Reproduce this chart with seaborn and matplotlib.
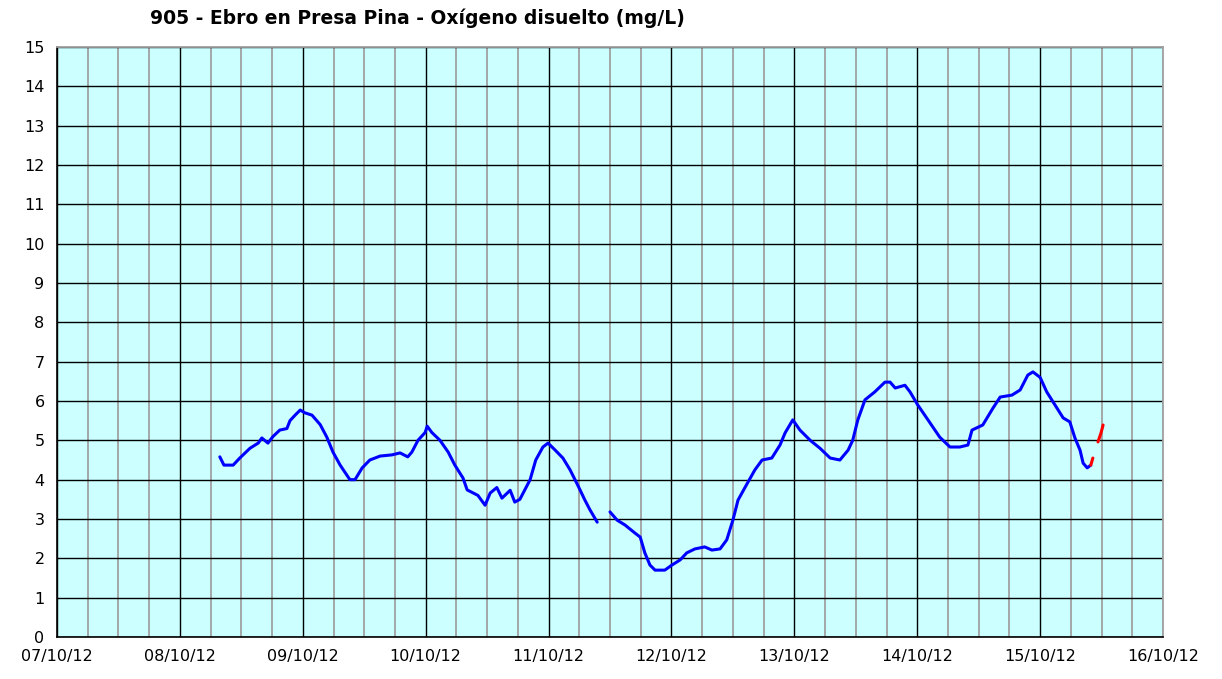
import numpy as np
import pandas as pd
import matplotlib
matplotlib.use("Agg")
import matplotlib.pyplot as plt
import matplotlib.dates as mdates
import seaborn as sns

# hours since 07/10/12 00:00 and dissolved oxygen (mg/L)
seg1_hours = [31.8, 32.6, 34.4, 35.7, 37.7, 39.3, 40.0, 41.2, 42.2, 43.5, 44.9, 45.5, 46.5,
              47.5, 48.4, 49.8, 51.4, 52.7, 53.9, 55.3, 57.2, 58.2, 59.6, 61.1, 63.1, 65.4,
              67.0, 68.5, 69.3, 70.5, 71.9, 72.3, 73.2, 74.8, 76.4, 77.7, 79.3, 80.1, 82.2,
              83.6, 84.6, 85.9, 86.9, 88.5, 89.4, 90.4, 92.4, 93.5, 94.9, 95.9, 97.3, 98.8,
              100.2, 101.7, 103.1, 104.1, 105.5]
seg1_vals = [4.58, 4.37, 4.37, 4.55, 4.80, 4.93, 5.06, 4.93, 5.10, 5.26, 5.30, 5.50, 5.64,
             5.77, 5.70, 5.64, 5.40, 5.08, 4.70, 4.37, 4.00, 4.00, 4.30, 4.50, 4.60, 4.63,
             4.68, 4.58, 4.70, 5.00, 5.20, 5.36, 5.20, 5.00, 4.70, 4.37, 4.04, 3.74, 3.60,
             3.35, 3.66, 3.80, 3.53, 3.73, 3.43, 3.50, 4.00, 4.50, 4.83, 4.93, 4.75, 4.55,
             4.25, 3.86, 3.48, 3.23, 2.92]

seg2_hours = [108.0, 109.4, 110.9, 112.9, 113.9, 114.8, 115.8, 116.8, 118.7, 120.1, 121.7,
              123.0, 124.6, 126.5, 127.9, 129.5, 130.8, 132.0, 133.0, 134.4, 136.3, 137.7,
              139.6, 141.2, 142.2, 143.7, 145.1, 147.1, 149.0, 151.0, 152.9, 154.5, 155.4,
              156.4, 157.8, 159.7, 161.7, 162.7, 163.7, 165.6, 166.6, 168.1, 170.1, 172.4,
              174.4, 176.3, 177.9, 178.7, 180.8, 182.8, 184.2, 186.5, 188.1, 189.6, 190.6,
              192.0, 193.3, 194.9, 196.5, 197.8, 198.8, 199.8, 200.4, 201.2, 201.9]
seg2_vals = [3.18, 2.97, 2.85, 2.64, 2.54, 2.14, 1.83, 1.70, 1.70, 1.83, 1.96, 2.14, 2.24,
             2.29, 2.21, 2.24, 2.47, 2.97, 3.48, 3.81, 4.25, 4.50, 4.55, 4.88, 5.19, 5.52,
             5.26, 5.00, 4.80, 4.55, 4.50, 4.75, 5.00, 5.52, 6.03, 6.23, 6.48, 6.48, 6.33,
             6.40, 6.23, 5.90, 5.52, 5.08, 4.83, 4.83, 4.88, 5.26, 5.39, 5.82, 6.10, 6.15,
             6.28, 6.66, 6.74, 6.60, 6.23, 5.90, 5.57, 5.47, 5.06, 4.75, 4.42, 4.30, 4.37]

red1_hours = [201.9, 202.3]
red1_vals = [4.37, 4.55]
red2_hours = [203.3, 203.9, 204.3]
red2_vals = [4.96, 5.19, 5.39]

start = pd.Timestamp("2012-10-07")
frames = []
for name, h, v in [("a", seg1_hours, seg1_vals), ("b", seg2_hours, seg2_vals),
                   ("c", red1_hours, red1_vals), ("d", red2_hours, red2_vals)]:
    frames.append(pd.DataFrame({"time": start + pd.to_timedelta(h, unit="h"),
                                "value": v, "segment": name}))
df = pd.concat(frames, ignore_index=True)

sns.set_style("white")
plt.rcParams["font.family"] = ["DejaVu Sans"]
plt.rcParams["text.color"] = "black"
plt.rcParams["xtick.color"] = "black"
plt.rcParams["ytick.color"] = "black"

fig = plt.figure(figsize=(12.22, 6.79), dpi=100)
ax = fig.add_axes([57 / 1222, 42 / 679, 1106 / 1222, 590 / 679])
ax.set_facecolor("#CCFFFF")

sns.lineplot(data=df, x="time", y="value", hue="segment", units="segment",
             estimator=None, sort=False,
             palette={"a": "#0000FF", "b": "#0000FF", "c": "#FF0000", "d": "#FF0000"},
             linewidth=2.2, legend=False, ax=ax)

ax.set_xlim(pd.Timestamp("2012-10-07"), pd.Timestamp("2012-10-16"))
ax.set_ylim(0, 15)
ax.set_yticks(range(0, 16))
ax.xaxis.set_major_locator(mdates.DayLocator())
ax.xaxis.set_major_formatter(mdates.DateFormatter("%d/%m/%y"))
ax.xaxis.set_minor_locator(mdates.HourLocator(byhour=[6, 12, 18]))

ax.grid(which="minor", axis="x", color="#A0A0A0", linewidth=1.3)
ax.grid(which="major", axis="x", color="black", linewidth=1.0)
ax.grid(which="major", axis="y", color="black", linewidth=1.0)
ax.set_axisbelow(True)

ax.tick_params(axis="both", which="major", direction="out", length=5, width=1,
               color="black", labelcolor="black", labelsize=11.5, pad=4)
ax.tick_params(axis="x", which="minor", length=0)
ax.set_xlabel("")
ax.set_ylabel("")

for side in ["left", "bottom"]:
    ax.spines[side].set_color("black")
    ax.spines[side].set_linewidth(1.2)
for side in ["top", "right"]:
    ax.spines[side].set_color("#A0A0A0")
    ax.spines[side].set_linewidth(1.3)

fig.text(417 / 1222, 1 - 18 / 679, "905 - Ebro en Presa Pina - Oxígeno disuelto (mg/L)",
         ha="center", va="center", fontsize=13.5, fontweight="bold", color="black")

fig.savefig("out.png", dpi=100, facecolor="white")
